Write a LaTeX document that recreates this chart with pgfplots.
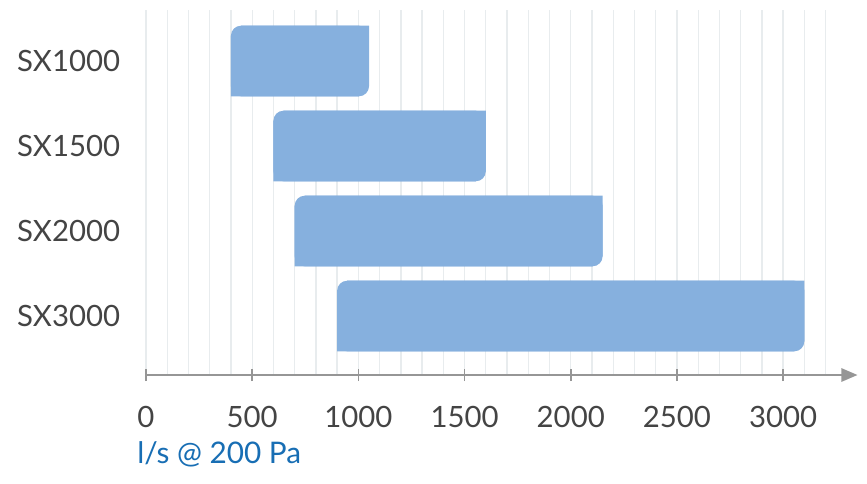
\documentclass[border=0pt]{standalone}
\usepackage{fontspec}
\setmainfont{Lato}
\usepackage{pgfplots}
\usepackage{pgfplotstable}
\pgfplotsset{compat=1.18}
\usetikzlibrary{arrows.meta}
\definecolor{barblue}{RGB}{134,176,222}
\definecolor{gridgray}{RGB}{232,236,238}
\definecolor{axisgray}{RGB}{150,150,150}
\definecolor{labelgray}{RGB}{68,68,68}
\definecolor{titleblue}{RGB}{24,110,180}

\pgfplotstableread{
name start end pos
SX1000 400 1050 3
SX1500 600 1600 2
SX2000 700 2150 1
SX3000 900 3100 0
}\ranges

\pgfplotsset{
 common/.style={
  at={(0,0)}, anchor=south west, scale only axis,
  width=533.6pt, height=273.75pt,
  xmin=0, xmax=3350, ymin=-0.694, ymax=3.6,
  enlargelimits=false,
  xbar stacked, bar width=0.83,
 }
}

\begin{document}
\begin{tikzpicture}
\path[use as bounding box] (-109.5pt,-81pt) rectangle (540.75pt,281.25pt);
\begin{axis}[common,
 axis x line=bottom, axis y line=left,
 y axis line style={draw=none},
 x axis line style={axisgray, line width=1.2pt, -{Triangle[length=12pt,width=10pt]}},
 xtick={0,500,...,3000}, minor xtick={0,100,...,3200},
 xmajorgrids, xminorgrids,
 major grid style={gridgray, line width=1pt},
 minor grid style={gridgray, line width=1pt},
 xtick align=center, major tick length=9pt, minor tick length=0pt,
 xtick style={axisgray, line width=1.2pt},
 ytick={0,1,2,3}, yticklabels={SX3000,SX2000,SX1500,SX1000},
 ytick style={draw=none},
 /pgf/number format/assume math mode=true,
 /pgf/number format/1000 sep={},
 xticklabel style={font=\fontsize{22}{26}\selectfont, text=labelgray, anchor=base, inner sep=0pt, yshift=-34.5pt},
 yticklabel style={font=\fontsize{22}{26}\selectfont, text=labelgray, anchor=east, inner sep=0pt, xshift=-14.75pt},
 xlabel={l/s @ 200 Pa},
 xlabel style={at={(rel axis cs:0,0)}, anchor=base west, inner sep=0pt, yshift=-66pt, xshift=-6.75pt, text=titleblue, font=\fontsize{22.3}{26}\selectfont},
]
\addplot[draw=none, fill=none, forget plot] table[x=start, y=pos] {\ranges};
\addplot[draw=none, fill=barblue, rounded corners=7.5pt] table[x expr=\thisrow{end}-\thisrow{start}, y=pos] {\ranges};
\end{axis}
\begin{axis}[common, hide axis, bar shift=-0.0588, bar width=0.7124]
\addplot[draw=none, fill=none] table[x=start, y=pos] {\ranges};
\addplot[draw=none, fill=barblue] table[x expr=\thisrow{end}-\thisrow{start}-47, y=pos] {\ranges};
\end{axis}
\begin{axis}[common, hide axis, bar shift=0.0588, bar width=0.7124]
\addplot[draw=none, fill=none] table[x expr=\thisrow{start}+47, y=pos] {\ranges};
\addplot[draw=none, fill=barblue] table[x expr=\thisrow{end}-\thisrow{start}-47, y=pos] {\ranges};
\end{axis}
\end{tikzpicture}
\end{document}
